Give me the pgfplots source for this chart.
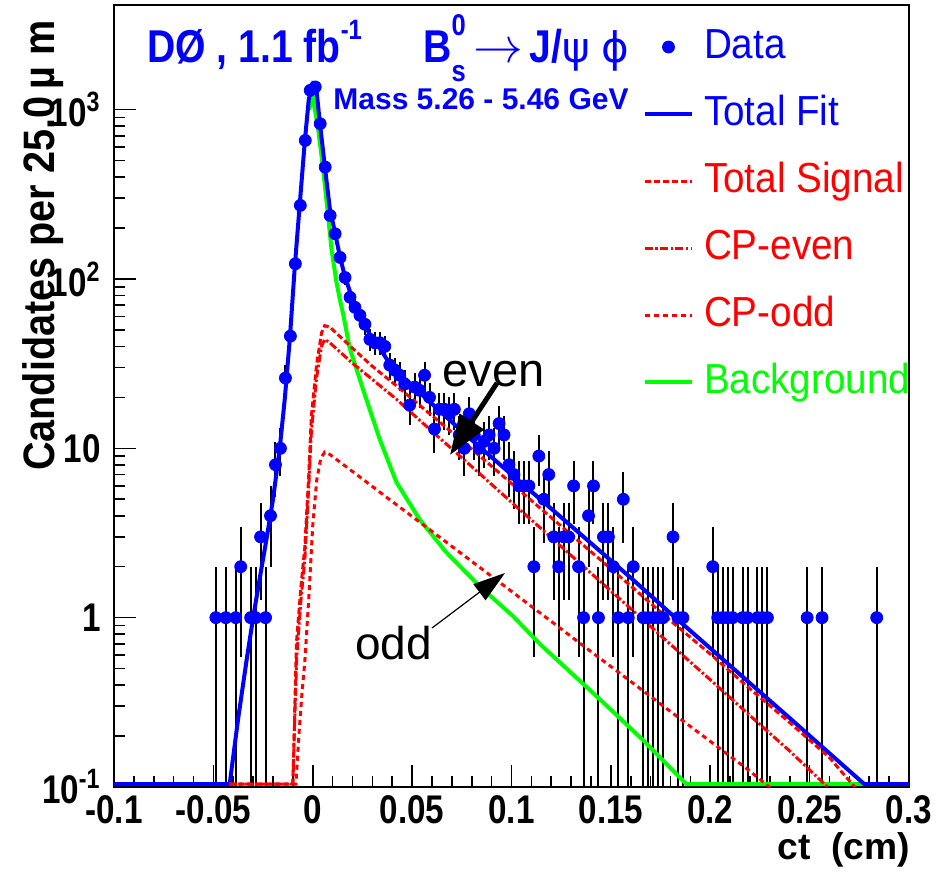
\documentclass[border=0pt]{standalone}
\usepackage{fontspec}
\setmainfont{Liberation Sans}
\newfontfamily\legfont{Liberation Sans}[FakeStretch=0.92]
\newfontfamily\titfont{Liberation Sans}[FakeStretch=0.85]
\newfontfamily\tickfont{Liberation Sans}[FakeStretch=0.83]
\newfontfamily\labfont{Liberation Sans}[FakeStretch=0.9]
\newfontfamily\symfont{DejaVu Sans}
\usepackage{pgfplots}
\pgfplotsset{compat=1.18}
\usetikzlibrary{arrows.meta,calc}

\definecolor{rootblue}{RGB}{0,0,255}
\definecolor{rootred}{RGB}{255,0,0}
\definecolor{rootgreen}{RGB}{0,255,0}

\pgfplotsset{
  legline/.style={legend image code/.code={\draw[##1] (0pt,0pt) -- (23.5pt,0pt);}},
  legdot/.style={legend image code/.code={\draw[mark repeat=1,mark phase=1,##1] plot coordinates {(11.75pt,0pt)};}},
}

\begin{document}
\begin{tikzpicture}
\begin{axis}[
  scale only axis, width=397.5pt, height=391pt,
  xmin=-0.1, xmax=0.3, ymode=log, ymin=0.1, ymax=4150,
  axis line style={line width=1pt},
  tick align=inside, xtick pos=bottom, ytick pos=left,
  major tick length=11pt, minor tick length=5.5pt,
  tick style={black, line width=0.8pt},
  xtick={-0.1,-0.05,0,0.05,0.1,0.15,0.2,0.25,0.3},
  xticklabels={-0.1,-0.05,0,0.05,0.1,0.15,0.2,0.25,0.3},
  minor x tick num=4,
  ytick={0.1,1,10,100,1000},
  yticklabels={10\textsuperscript{-1},1,10,10\textsuperscript{2},10\textsuperscript{3}},
  tick label style={font=\tickfont\bfseries\fontsize{20}{20}\selectfont},
  xticklabel style={anchor=north, inner sep=0pt, yshift=-4pt},
  yticklabel style={anchor=east, inner sep=0pt, xshift=-6.5pt},
  legend cell align=left,
  legend style={draw=none, fill=none, at={(0.6654,0.9731)}, anchor=north west,
    inner sep=0pt, outer sep=0pt, row sep=12.5pt,
    nodes={inner sep=0pt, text height=16pt, text depth=5pt,
      font=\legfont\fontsize{21}{25}\selectfont},
    /tikz/every odd column/.append style={column sep=5pt}},
]
% legend entries in the order of the reference
\addlegendimage{legdot, only marks, mark=*, mark size=3pt, color=rootblue}
\addlegendentry{\textcolor{rootblue}{Data}}
\addlegendimage{legline, rootblue, line width=2pt}
\addlegendentry{\textcolor{rootblue}{Total Fit}}
\addlegendimage{legline, rootred, line width=1.5pt, dash pattern=on 3pt off 1.5pt}
\addlegendentry{\textcolor{rootred}{Total Signal}}
\addlegendimage{legline, rootred, line width=1.5pt, dash pattern=on 4pt off 1.2pt on 1.2pt off 1.2pt}
\addlegendentry{\textcolor{rootred}{CP-even}}
\addlegendimage{legline, rootred, line width=1.5pt, dash pattern=on 2.5pt off 2pt}
\addlegendentry{\textcolor{rootred}{CP-odd}}
\addlegendimage{legline, rootgreen, line width=2pt}
\addlegendentry{\textcolor{rootgreen}{Background}}

% data, 25 um bins, Poisson errors
\addplot[forget plot, only marks, mark=*, mark size=3pt, color=rootblue,
  error bars/.cd, y dir=both, y explicit,
  error bar style={black, line width=1pt}, error mark=none]
  table[x=ct, y=n,
    y error plus expr={sqrt(\thisrow{n})},
    y error minus expr={min(sqrt(\thisrow{n}),0.999*\thisrow{n})}] {
ct n
-0.04875 1
-0.04375 1
-0.03875 1
-0.03625 2
-0.03125 1
-0.02875 1
-0.02625 3
-0.02375 1
-0.02125 4
-0.01875 8
-0.01625 10
-0.01375 26
-0.01125 46
-0.00875 123
-0.00625 272
-0.00375 658
-0.00125 1300
0.00125 1362
0.00375 826
0.00625 458
0.00875 237
0.01125 185
0.01375 134
0.01625 102
0.01875 78
0.02125 68
0.02375 61
0.02625 54
0.02875 44
0.03125 42
0.03375 42
0.03625 40
0.03875 31
0.04125 29
0.04375 27
0.04625 24
0.04875 18
0.05125 23
0.05375 22
0.05625 27
0.05875 20
0.06125 13
0.06375 17
0.06625 17
0.06875 16
0.07125 17
0.07375 12
0.07625 10
0.07875 16
0.08125 12
0.08375 10
0.08625 11
0.08875 12
0.09125 10
0.09375 14
0.09625 12
0.09875 8
0.10125 7
0.10375 6
0.10625 6
0.10875 6
0.11125 2
0.11375 9
0.11625 5
0.11875 7
0.12125 3
0.12375 2
0.12625 3
0.12875 3
0.13125 6
0.13375 2
0.13625 1
0.13875 4
0.14125 6
0.14375 1
0.14625 3
0.14875 3
0.15125 2
0.15375 1
0.15625 5
0.15875 1
0.16125 2
0.16625 1
0.16875 1
0.17125 1
0.17375 1
0.17625 1
0.18125 3
0.18375 1
0.18625 1
0.20125 2
0.20375 1
0.20625 1
0.20875 1
0.21125 1
0.21625 1
0.21875 1
0.22375 1
0.22625 1
0.22875 1
0.24875 1
0.25625 1
0.28375 1
};

% background
\addplot[forget plot, rootgreen, line width=2pt] table {
-0.0020 1000
0.0002 1160
0.0027 772
0.0052 448
0.0077 237
0.0094 151
0.0119 96
0.0136 76
0.0153 62
0.0186 39
0.0253 22.3
0.0337 11.3
0.0421 6.3
0.0538 3.8
0.0673 2.42
0.0840 1.53
0.1008 1.02
0.1142 0.70
0.1444 0.33
0.1660 0.19
0.1880 0.104
0.3000 0.104
};

% total fit
\addplot[forget plot, rootblue, line width=2pt] table {
-0.1000 0.104
-0.0418 0.104
-0.0376 0.25
-0.0334 0.55
-0.0300 1.0
-0.0267 1.7
-0.0233 2.9
-0.0200 5.0
-0.0166 10
-0.0140 20
-0.0115 45
-0.0090 120
-0.0065 280
-0.0040 650
-0.0020 1150
0.0000 1400
0.0019 1300
0.0035 850
0.0060 470
0.0086 260
0.0111 190
0.0136 137
0.0161 104
0.0195 79
0.0237 60
0.0287 47
0.0337 39
0.0400 30
0.0500 23.5
0.0600 18.3
0.0700 14.3
0.0800 11.2
0.1000 7.0
0.1200 4.4
0.1400 2.75
0.1600 1.72
0.1800 1.06
0.2000 0.66
0.2200 0.41
0.2400 0.255
0.2600 0.158
0.2775 0.104
0.3000 0.104
};

% CP-even
\addplot[forget plot, rootred, line width=1.5pt, dash pattern=on 4pt off 1.2pt on 1.2pt off 1.2pt] table {
-0.0420 0.104
-0.0100 0.104
-0.0089 0.3
-0.0080 0.6
-0.0060 1.25
-0.0040 2.2
-0.0020 6.0
-0.0007 12.5
0.0019 26
0.0044 40
0.0060 44
0.0086 42
0.0200 31.8
0.0300 25.5
0.0421 19.5
0.0600 12.6
0.0800 7.8
0.1000 4.8
0.1200 2.97
0.1400 1.83
0.1600 1.13
0.1800 0.695
0.2000 0.43
0.2200 0.264
0.2400 0.163
0.2610 0.095
};

% CP-odd
\addplot[forget plot, rootred, line width=1.5pt, dash pattern=on 2.5pt off 2pt] table {
-0.0420 0.104
-0.0085 0.104
-0.0070 0.2
-0.0055 0.35
-0.0040 0.55
-0.0020 1.3
0.0000 3.5
0.0020 6.5
0.0040 8.7
0.0060 9.5
0.0086 9.2
0.0200 7.3
0.0400 4.85
0.0600 3.23
0.0800 2.15
0.1000 1.43
0.1200 0.95
0.1400 0.63
0.1600 0.42
0.1800 0.279
0.2000 0.186
0.2200 0.124
0.2320 0.095
};

% total signal
\addplot[forget plot, rootred, line width=1.5pt, dash pattern=on 3pt off 1.5pt] table {
-0.0420 0.104
-0.0100 0.104
-0.0090 0.3
-0.0082 0.71
-0.0060 1.5
-0.0040 2.6
-0.0020 7.0
-0.0007 15.5
0.0019 31
0.0044 48
0.0060 53
0.0086 52
0.0200 39
0.0300 30.5
0.0421 23.4
0.0600 15.6
0.0800 9.9
0.1000 6.2
0.1200 3.9
0.1400 2.45
0.1600 1.54
0.1800 0.96
0.2000 0.61
0.2200 0.38
0.2400 0.24
0.2600 0.149
0.2760 0.09
};

\coordinate (BL) at (rel axis cs:0,0);
\coordinate (TR) at (rel axis cs:1,1);
\coordinate (TL) at (rel axis cs:0,1);
\coordinate (BR) at (rel axis cs:1,0);
\end{axis}

% titles
\node[anchor=base west, text=rootblue, inner sep=0pt,
  font=\titfont\bfseries\fontsize{23}{26}\selectfont]
  at ($(BL)+(16.5pt,362pt)$) {DØ , 1.1 fb\raisebox{0.5em}{\fontsize{14}{14}\selectfont -1}};
\node[anchor=base west, text=rootblue, inner sep=0pt,
  font=\titfont\bfseries\fontsize{23}{26}\selectfont]
  at ($(BL)+(154.5pt,362pt)$)
  {B\rlap{\raisebox{-0.4em}{\fontsize{15}{15}\selectfont s}}\raisebox{0.6em}{\fontsize{15}{15}\selectfont 0}\hspace{4pt}\ensuremath{\rightarrow}\hspace{3pt}J/{\symfont\mdseries\fontsize{21}{26}\selectfont ψ\hspace{6pt}ϕ}};
\node[anchor=base west, text=rootblue, inner sep=0pt,
  font=\bfseries\fontsize{15}{17}\selectfont]
  at ($(BL)+(109.5pt,338.5pt)$) {Mass 5.26 - 5.46 GeV};

% annotations
\node[anchor=base west, inner sep=0pt, font=\fontsize{23.5}{26}\selectfont]
  at ($(BL)+(164pt,200pt)$) {even};
\node[anchor=base west, inner sep=0pt, font=\fontsize{23}{26}\selectfont]
  at ($(BL)+(120.5pt,63.5pt)$) {odd};
\draw[line width=2.5pt, -{Triangle[length=20pt,width=14pt]}]
  ($(BL)+(191.5pt,202pt)$) -- ($(BL)+(168pt,166pt)$);
\draw[line width=0.6pt, -{Triangle[length=16pt,width=10pt]}]
  ($(BL)+(159pt,79.5pt)$) -- ($(BL)+(195.5pt,107pt)$);

% axis titles
\node[rotate=90, anchor=base east, inner sep=0pt,
  font=\labfont\bfseries\fontsize{22}{25}\selectfont]
  at ($(TL)+(-29.5pt,-7.5pt)$) {Candidates per 25.0\,µ m};
\node[anchor=base east, inner sep=0pt, font=\bfseries\fontsize{18.6}{22}\selectfont]
  at ($(BR)+(0.5pt,-36.5pt)$) {ct\ \ (cm)};

\pgfresetboundingbox
\useasboundingbox ($(BL)+(-57pt,-44pt)$) rectangle ($(TR)+(18.5pt,2.5pt)$);
\end{tikzpicture}
\end{document}
